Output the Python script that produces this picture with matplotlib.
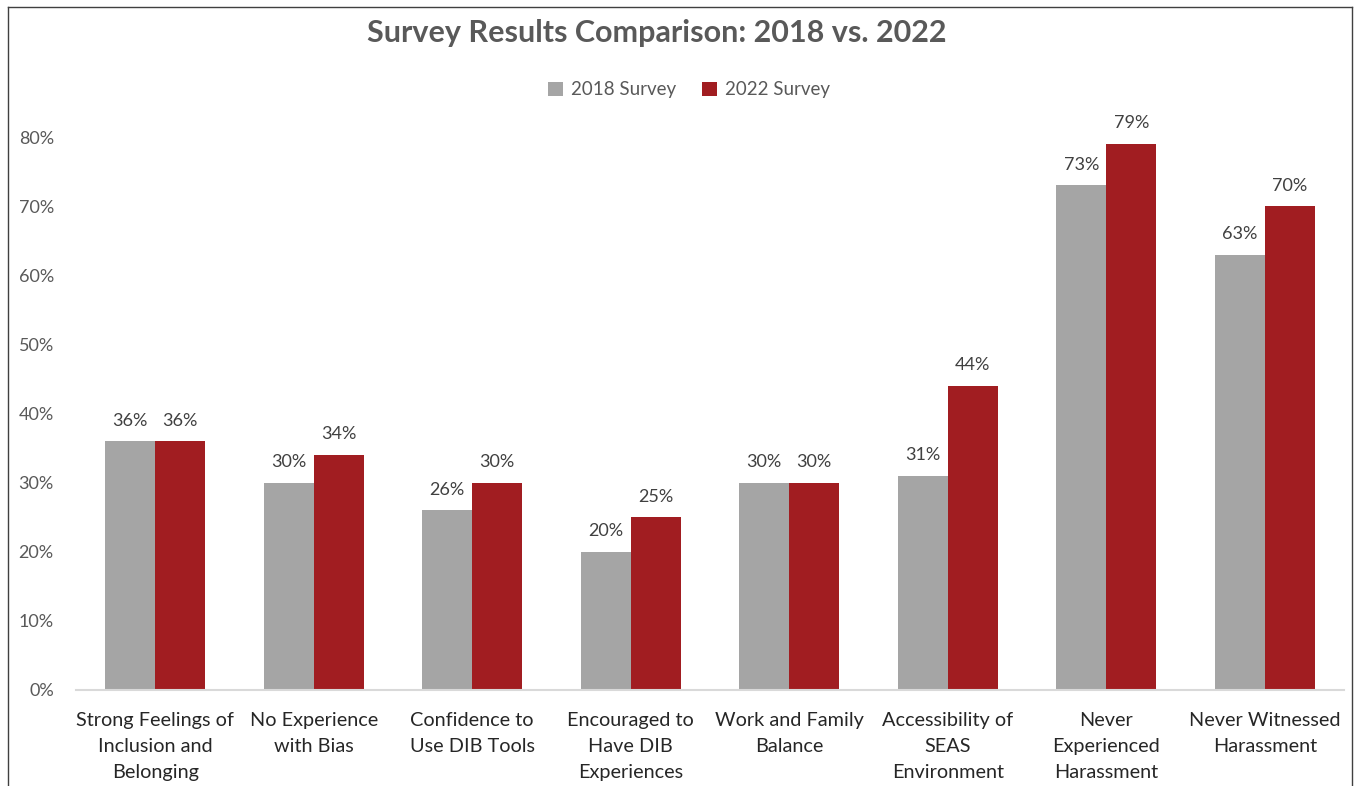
import numpy as np
import matplotlib
matplotlib.use('Agg')
import matplotlib.pyplot as plt
from matplotlib.lines import Line2D
from matplotlib.ticker import PercentFormatter

categories = [
    "Strong Feelings of\nInclusion and\nBelonging",
    "No Experience\nwith Bias",
    "Confidence to\nUse DIB Tools",
    "Encouraged to\nHave DIB\nExperiences",
    "Work and Family\nBalance",
    "Accessibility of\nSEAS\nEnvironment",
    "Never\nExperienced\nHarassment",
    "Never Witnessed\nHarassment",
]
survey_2018 = [36, 30, 26, 20, 30, 31, 73, 63]
survey_2022 = [36, 34, 30, 25, 30, 44, 79, 70]

GRAY = '#A5A5A5'
RED = '#A11D21'
TEXT = '#595959'

plt.rcParams['font.family'] = ['Lato', 'DejaVu Sans']

fig = plt.figure(figsize=(13.56, 7.86), dpi=100)
ax = fig.add_axes([76 / 1356, 1 - 690 / 786, (1344 - 76) / 1356, (690 - 137) / 786])

x = np.arange(len(categories))
w = 0.315
b1 = ax.bar(x - w / 2, survey_2018, w, color=GRAY, label='2018 Survey')
b2 = ax.bar(x + w / 2, survey_2022, w, color=RED, label='2022 Survey')

for bars in (b1, b2):
    for r in bars:
        ax.annotate(f"{r.get_height():.0f}%", (r.get_x() + r.get_width() / 2, r.get_height()),
                    xytext=(0, 9), textcoords='offset points', ha='center', va='bottom',
                    fontsize=13, color='#404040')

ax.set_xlim(-0.5, len(categories) - 0.5)
ax.set_ylim(0, 80)
ax.set_yticks(range(0, 81, 10))
ax.yaxis.set_major_formatter(PercentFormatter(decimals=0))
ax.set_xticks(x)
ax.set_xticklabels(categories, fontsize=14.3, color='#262626', linespacing=1.62)
ax.tick_params(axis='y', length=0, labelsize=13, labelcolor=TEXT, pad=16)
ax.tick_params(axis='x', length=0, pad=16)
for s in ['top', 'right', 'left']:
    ax.spines[s].set_visible(False)
ax.spines['bottom'].set_color('#D9D9D9')
ax.spines['bottom'].set_linewidth(1.5)

fig.text(657 / 1356, 1 - 33 / 786, "Survey Results Comparison: 2018 vs. 2022",
         ha='center', va='center', fontsize=22, fontweight='bold', color=TEXT)
fig.legend(handles=[b1, b2], loc='center', bbox_to_anchor=(689 / 1356, 1 - 90 / 786),
           ncol=2, frameon=False, fontsize=13.5, labelcolor=TEXT,
           handlelength=0.8, handleheight=0.8, handletextpad=0.4, columnspacing=1.4)

# chart border (cropped at the bottom)
fig.add_artist(Line2D([8 / 1356, 8 / 1356], [0, 1 - 7 / 786], transform=fig.transFigure, color='#404040', lw=1))
fig.add_artist(Line2D([8 / 1356, 1352 / 1356], [1 - 7 / 786, 1 - 7 / 786], transform=fig.transFigure, color='#404040', lw=1))
fig.add_artist(Line2D([1352 / 1356, 1352 / 1356], [0, 1 - 7 / 786], transform=fig.transFigure, color='#404040', lw=1))

fig.savefig('out.png', dpi=100)
